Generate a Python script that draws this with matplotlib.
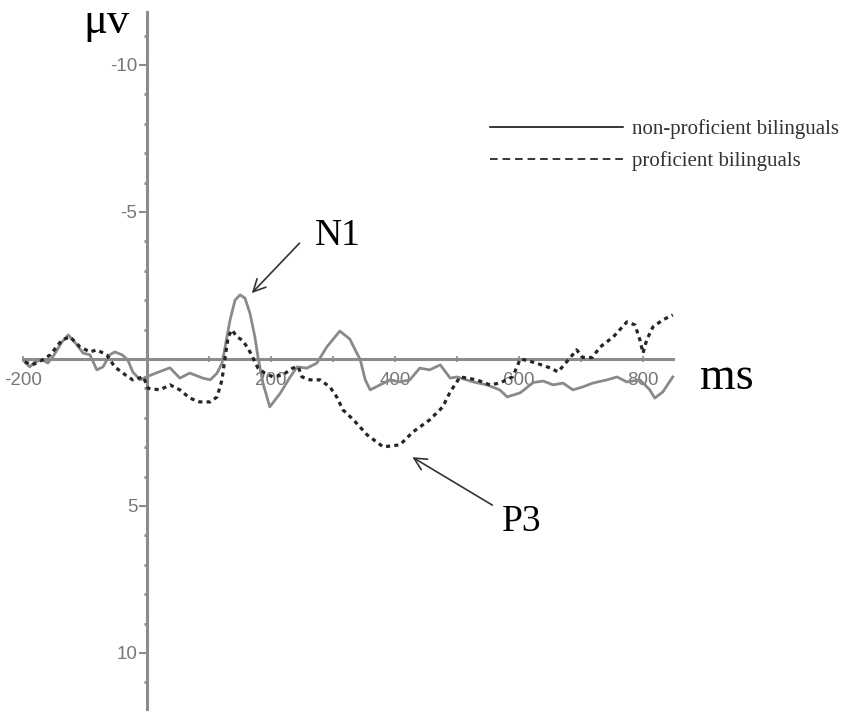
"""ERP waveforms: non-proficient vs proficient bilinguals (N1 / P3 annotated)."""

import matplotlib
matplotlib.use("Agg")  # headless
import matplotlib.pyplot as plt
from matplotlib.ticker import FixedLocator

# --- data (ms, microvolts; negative plotted up) ---
t_nonprof = [-197, -189, -181, -169, -160, -152, -137, -127, -113, -103, -92, -81, -71,
             -60, -52, -40, -31, -23, -11, 0, 18, 37, 53, 69, 90, 102, 113, 121, 126,
             134, 142, 150, 158, 166, 174, 179, 187, 198, 215, 231, 242, 258, 274, 290,
             311, 327, 344, 352, 360, 376, 392, 408, 424, 440, 456, 473, 489, 500, 526,
             548, 569, 581, 602, 623, 639, 655, 671, 687, 703, 719, 742, 758, 774, 795,
             811, 819, 832, 848]
v_nonprof = [0.10, 0.27, 0.10, 0.03, 0.14, -0.07, -0.58, -0.82, -0.48, -0.20, -0.14, 0.37,
             0.27, -0.14, -0.24, -0.14, 0.03, 0.44, 0.71, 0.60, 0.45, 0.30, 0.65, 0.48,
             0.65, 0.71, 0.48, 0.14, -0.41, -1.33, -2.00, -2.18, -2.07, -1.56, -0.75,
             -0.07, 0.82, 1.63, 1.16, 0.61, 0.27, 0.31, 0.14, -0.41, -0.95, -0.68, 0.03,
             0.71, 1.05, 0.88, 0.71, 0.78, 0.71, 0.31, 0.37, 0.20, 0.65, 0.61, 0.78, 0.88,
             1.05, 1.29, 1.15, 0.80, 0.75, 0.88, 0.82, 1.05, 0.95, 0.82, 0.71, 0.61, 0.78,
             0.71, 1.05, 1.33, 1.12, 0.61]

t_prof = [-197, -185, -170, -156, -137, -124, -108, -92, -81, -65, -52, -35, -23, -6, 2,
          21, 37, 53, 69, 85, 102, 113, 121, 126, 131, 137, 145, 153, 163, 171, 179, 190,
          203, 219, 235, 244, 250, 263, 279, 295, 306, 316, 333, 355, 381, 408, 429, 456,
          477, 489, 505, 532, 553, 569, 590, 602, 613, 629, 650, 663, 682, 693, 703, 718,
          731, 752, 774, 787, 795, 800, 806, 816, 832, 848]
v_prof = [0.10, 0.20, 0.05, -0.14, -0.65, -0.75, -0.41, -0.24, -0.31, -0.14, 0.27, 0.54,
          0.71, 0.61, 1.00, 1.05, 0.88, 1.05, 1.33, 1.46, 1.46, 1.29, 0.71, -0.07, -0.75,
          -0.99, -0.75, -0.65, -0.37, -0.03, 0.31, 0.48, 0.61, 0.54, 0.31, 0.27, 0.61,
          0.71, 0.71, 0.95, 1.29, 1.73, 2.07, 2.58, 2.99, 2.92, 2.48, 2.07, 1.63, 1.12,
          0.61, 0.71, 0.88, 0.82, 0.60, 0.00, 0.05, 0.15, 0.30, 0.44, -0.03, -0.31,
          -0.05, -0.05, -0.41, -0.75, -1.26, -1.16, -0.65, -0.20, -0.65, -1.09, -1.33,
          -1.50]

labels = ["non-proficient bilinguals", "proficient bilinguals"]
x_ticklabels = [-200, 200, 400, 600, 800]
y_ticklabels = [-10, -5, 5, 10]

AXIS_GREY = "#8c8c8c"
TEXT_GREY = "#777777"
SERIF = ["Liberation Serif", "DejaVu Serif"]

fig = plt.figure(figsize=(8.51, 7.19), dpi=100)
ax = fig.add_axes([0, 0, 1, 1])
ax.set_xlim(-237.1, 1135.5)
ax.set_ylim(12.245, -12.21)      # negative up, as in ERP plots
ax.patch.set_visible(False)

# axes crossing at (0, 0)
for side in ("top", "right"):
    ax.spines[side].set_visible(False)
ax.spines["left"].set_position(("data", 0))
ax.spines["bottom"].set_position(("data", 0))
ax.spines["left"].set_bounds(-11.8, 11.9)
ax.spines["bottom"].set_bounds(-200, 848)
for side in ("left", "bottom"):
    ax.spines[side].set_color(AXIS_GREY)
    ax.spines[side].set_linewidth(2.2)

ax.xaxis.set_major_locator(FixedLocator(x_ticklabels))
ax.xaxis.set_minor_locator(FixedLocator([100, 300, 500, 700]))
ax.set_xticklabels([str(v) for v in x_ticklabels])
ax.yaxis.set_major_locator(FixedLocator(y_ticklabels))
ax.yaxis.set_minor_locator(FixedLocator([v for v in range(-11, 12) if v not in (-10, -5, 0, 5, 10)]))
ax.set_yticklabels([str(v) for v in y_ticklabels])
ax.tick_params(axis="x", which="both", direction="inout", length=5, width=1.2,
               color=AXIS_GREY, pad=7, labelsize=13.5, labelcolor=TEXT_GREY)
ax.tick_params(axis="y", which="major", direction="out", length=6, width=1.5,
               color=AXIS_GREY, pad=1, labelsize=13.5, labelcolor=TEXT_GREY)
ax.tick_params(axis="y", which="minor", direction="out", length=2.5, width=2,
               color=AXIS_GREY)
for lab in ax.get_xticklabels() + ax.get_yticklabels():
    lab.set_family("Liberation Sans")

l1, = ax.plot(t_nonprof, v_nonprof, color="#8a8a8a", lw=2.0, zorder=3, label=labels[0])
l2, = ax.plot(t_prof, v_prof, color="#262626", lw=2.3, ls=(0, (1.3, 1.3)), zorder=4,
              label=labels[1])

leg = ax.legend(handles=[l1, l2], loc="upper left", bbox_to_anchor=(490 / 851, 1 - 119 / 719),
                bbox_transform=fig.transFigure, frameon=False, borderpad=0, borderaxespad=0,
                handlelength=6.4, handletextpad=0.4, labelspacing=0.6,
                prop={"family": SERIF, "size": 15})
for h in leg.get_lines():
    h.set_color("black")
    h.set_linewidth(1.1)
leg.get_lines()[1].set_dashes((5, 3.2))
for txt in leg.get_texts():
    txt.set_color("#333333")

# unit labels
fig.text(106 / 851, 1 - 22 / 719, "μv", family=SERIF, fontsize=32, ha="center", va="center")
fig.text(727 / 851, 1 - 378 / 719, "ms", family=SERIF, fontsize=33, ha="center", va="center")

# component annotations
arrow = dict(arrowstyle="->", color="#333333", lw=1.2, mutation_scale=22, shrinkA=0, shrinkB=0)
ax.annotate("", xy=(169, -2.24), xytext=(246, -3.94), arrowprops=arrow)
ax.text(307, -4.2, "N1", family=SERIF, fontsize=27, ha="center", va="center")
ax.annotate("", xy=(428, 3.34), xytext=(557, 4.97), arrowprops=arrow)
ax.text(605, 5.55, "P3", family=SERIF, fontsize=27, ha="center", va="center")

fig.savefig("out.png", dpi=100)
